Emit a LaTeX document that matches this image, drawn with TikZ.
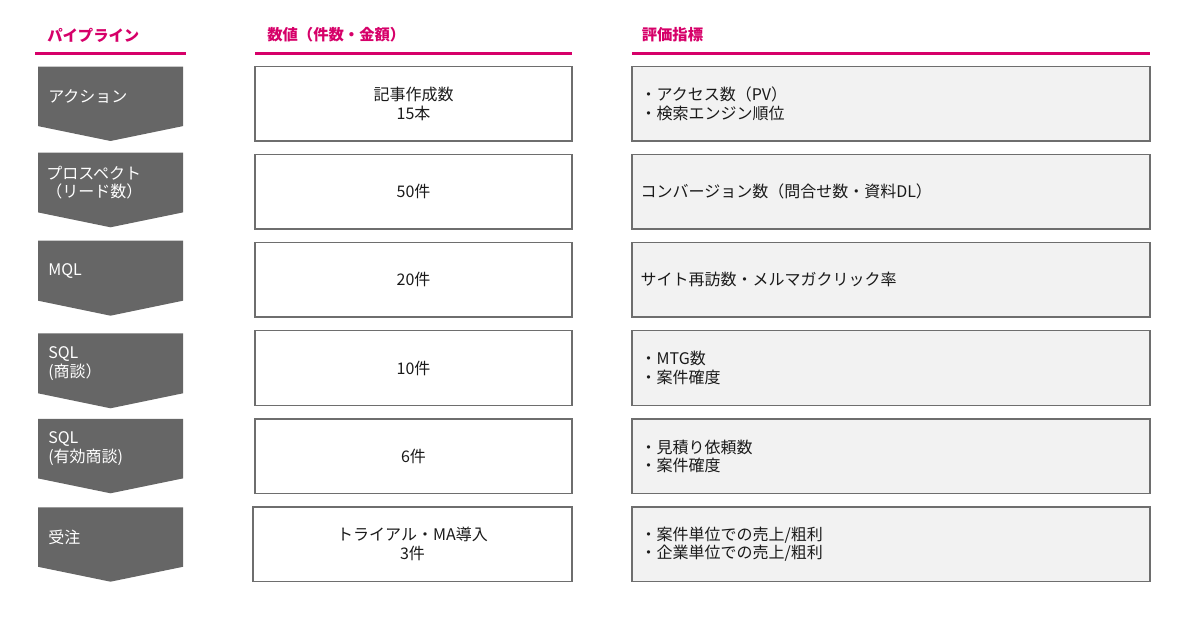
\documentclass[tikz,border=0pt]{standalone}
\usepackage{fontspec}
\setmainfont{Noto Sans CJK JP}
\definecolor{hdrpink}{RGB}{214,0,105}
\definecolor{stagegray}{RGB}{102,102,102}
\definecolor{boxline}{RGB}{110,110,110}
\definecolor{boxfill}{RGB}{242,242,242}
\definecolor{txtcol}{RGB}{26,26,26}
\begin{document}
\begin{tikzpicture}[x=0.75pt,y=-0.75pt,
  hdr/.style={anchor=west, text=hdrpink, inner sep=0pt, font=\fontsize{11.5}{14}\selectfont\bfseries},
  hline/.style={draw=hdrpink, line width=2pt},
  stage/.style={fill=stagegray},
  stagetext/.style={anchor=west, text=white, align=left, inner sep=0pt, font=\fontsize{12}{14}\selectfont},
  valbox/.style={draw=boxline, line width=1pt, align=center, text=txtcol, inner sep=0pt,
    minimum width=237.75pt, minimum height=55.9pt, font=\fontsize{12}{14}\selectfont},
  evalbox/.style={draw=boxline, fill=boxfill, line width=1pt, inner sep=0pt,
    minimum width=388.5pt, minimum height=55.9pt},
  evaltext/.style={anchor=west, align=left, text=txtcol, inner sep=0pt, font=\fontsize{12}{14}\selectfont}
]
\useasboundingbox (0,0) rectangle (1200,630);

% headers
\node[hdr] (h1) at (47,35) {パイプライン};
\node[hdr] (h2) at (267,35) {数値（件数・金額）};
\node[hdr] (h3) at (641.5,35) {評価指標};
\coordinate (l1a) at (35,53.3); \coordinate (l1b) at (186,53.3);
\coordinate (l2a) at (255,53.3); \coordinate (l2b) at (572,53.3);
\coordinate (l3a) at (632,53.3); \coordinate (l3b) at (1150,53.3);
\draw[hline] (l1a) -- (l1b);
\draw[hline] (l2a) -- (l2b);
\draw[hline] (l3a) -- (l3b);

% pipeline stages (top t, tip b, side bottom t+0.8h)
\fill[stage] (38,66.7) -- (183,66.7) -- (183,126.1) -- (110.5,141) -- (38,126.1) -- cycle;
\node[stagetext] (s1) at (48,96.4) {アクション};
\fill[stage] (38,152.7) -- (183,152.7) -- (183,212.4) -- (110.5,227.3) -- (38,212.4) -- cycle;
\node[stagetext] (s2) at (46,182.5) {プロスペクト\\（リード数）};
\fill[stage] (38,240.7) -- (183,240.7) -- (183,300.7) -- (110.5,315.7) -- (38,300.7) -- cycle;
\node[stagetext] (s3) at (48,270.7) {MQL};
\fill[stage] (38,333.3) -- (183,333.3) -- (183,393.3) -- (110.5,408.3) -- (38,393.3) -- cycle;
\node[stagetext] (s4) at (48,363.3) {SQL\\(商談）};
\fill[stage] (38,419) -- (183,419) -- (183,478.4) -- (110.5,493.3) -- (38,478.4) -- cycle;
\node[stagetext] (s5) at (48,448.7) {SQL\\(有効商談)};
\fill[stage] (38,507.3) -- (183,507.3) -- (183,566.8) -- (110.5,581.7) -- (38,566.8) -- cycle;
\node[stagetext] (s6) at (48,537.3) {受注};

% values
\node[valbox] (v1) at (413.5,103.8) {記事作成数\\15本};
\node[valbox] (v2) at (413.5,191.8) {50件};
\node[valbox] (v3) at (413.5,279.8) {20件};
\node[valbox] (v4) at (413.5,368) {10件};
\node[valbox] (v5) at (413.5,456.3) {6件};
\node[valbox, minimum width=239.25pt] (v6) at (412.5,544.2) {トライアル・MA導入\\3件};

% evaluation metrics
\node[evalbox] (e1) at (891,103.8) {};
\node[evaltext] (t1) at ([xshift=6.75pt]e1.west) {・アクセス数（PV）\\・検索エンジン順位};
\node[evalbox] (e2) at (891,191.8) {};
\node[evaltext] (t2) at ([xshift=6.75pt]e2.west) {コンバージョン数（問合せ数・資料DL）};
\node[evalbox] (e3) at (891,279.8) {};
\node[evaltext] (t3) at ([xshift=6.75pt]e3.west) {サイト再訪数・メルマガクリック率};
\node[evalbox] (e4) at (891,368) {};
\node[evaltext] (t4) at ([xshift=6.75pt]e4.west) {・MTG数\\・案件確度};
\node[evalbox] (e5) at (891,456.3) {};
\node[evaltext] (t5) at ([xshift=6.75pt]e5.west) {・見積り依頼数\\・案件確度};
\node[evalbox] (e6) at (891,544.2) {};
\node[evaltext] (t6) at ([xshift=6.75pt]e6.west) {・案件単位での売上/粗利\\・企業単位での売上/粗利};
\end{tikzpicture}
\end{document}
